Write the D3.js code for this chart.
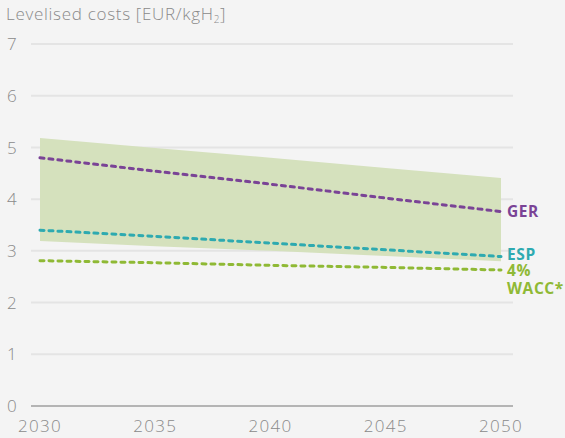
<!DOCTYPE html>
<html>
<head>
<meta charset="utf-8">
<script src="https://cdn.jsdelivr.net/npm/d3@7.9.0/dist/d3.min.js"></script>
<style>
  body { margin: 0; background: #f4f4f4; }
  svg { display: block; font-family: "Open Sans", "Noto Sans", sans-serif; }
</style>
</head>
<body>
<svg id="chart" width="565" height="438"></svg>
<script>
const years = [2030, 2035, 2040, 2045, 2050];
const bandLow = [3.19, 3.09, 3.0, 2.9, 2.8];
const bandHigh = [5.18, 4.99, 4.8, 4.6, 4.41];
const ger = [4.8, 4.54, 4.29, 4.02, 3.76];
const esp = [3.4, 3.28, 3.15, 3.02, 2.89];
const wacc = [2.81, 2.77, 2.72, 2.68, 2.63];
const yTicks = [0, 1, 2, 3, 4, 5, 6, 7];

const svg = d3.select('#chart');
const x = d3.scaleLinear().domain([2030, 2050]).range([40, 501]);
const y = d3.scaleLinear().domain([0, 7]).range([406, 44]);

// gridlines
svg.selectAll('line.grid')
  .data(yTicks)
  .join('line')
  .attr('x1', 31).attr('x2', 513)
  .attr('y1', (d) => y(d)).attr('y2', (d) => y(d))
  .attr('stroke', (d) => d === 0 ? '#b4b4b4' : '#e4e4e4')
  .attr('stroke-width', 2);

svg.selectAll('text.ytick')
  .data(yTicks)
  .join('text')
  .attr('x', 7).attr('y', (d) => y(d))
  .attr('dy', '0.36em')
  .attr('fill', '#8a8a8a')
  .attr('font-size', 17)
  .attr('font-weight', 300)
  .text((d) => d);

svg.selectAll('text.xtick')
  .data(years)
  .join('text')
  .attr('x', (d) => x(d)).attr('y', 432)
  .attr('text-anchor', 'middle')
  .attr('fill', '#8a8a8a')
  .attr('font-size', 17)
  .attr('font-weight', 300)
  .attr('letter-spacing', 1.3)
  .text((d) => d);

const title = svg.append('text')
  .attr('x', 6).attr('y', 20)
  .attr('fill', '#8a8a8a')
  .attr('font-size', 17)
  .attr('font-weight', 300)
  .attr('letter-spacing', 0.7);
title.append('tspan').text('Levelised costs [EUR/kgH');
title.append('tspan').attr('font-size', 10).attr('dy', 3).text('2');
title.append('tspan').attr('dy', -3).text(']');

// band
const area = d3.area()
  .x((d, i) => x(years[i]))
  .y0((d, i) => y(bandLow[i]))
  .y1((d, i) => y(bandHigh[i]));
svg.append('path')
  .attr('d', area(years))
  .attr('fill', '#d5e1bd');

const series = [
  { values: ger, color: '#7a4396' },
  { values: esp, color: '#2eaab0' },
  { values: wacc, color: '#8fb935' }
];
const line = d3.line()
  .x((d, i) => x(years[i]))
  .y((d) => y(d));
series.forEach((s) => {
  svg.append('path')
    .attr('d', line(s.values))
    .attr('fill', 'none')
    .attr('stroke', s.color)
    .attr('stroke-width', 3)
    .attr('stroke-linecap', 'round')
    .attr('stroke-dasharray', '4 5');
});

const labels = [
  { text: 'GER', v: ger[4], dy: 5, color: '#7a4396' },
  { text: 'ESP', v: esp[4], dy: 3, color: '#2eaab0' },
  { text: '4%', v: wacc[4], dy: 6, color: '#8fb935' },
  { text: 'WACC*', v: wacc[4], dy: 24, color: '#8fb935' }
];
svg.selectAll('text.lbl')
  .data(labels)
  .join('text')
  .attr('x', 507)
  .attr('y', (d) => y(d.v) + d.dy)
  .attr('fill', (d) => d.color)
  .attr('font-size', 15.5)
  .attr('font-weight', 700)
  .attr('letter-spacing', 0.6)
  .text((d) => d.text);
</script>
</body>
</html>
